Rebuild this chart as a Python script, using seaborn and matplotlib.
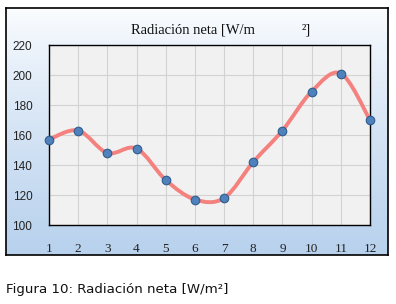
import numpy as np
import seaborn as sns
from matplotlib import pyplot as plt
from matplotlib.path import Path
from matplotlib.patches import PathPatch

# Monthly values
months = [1, 2, 3, 4, 5, 6, 7, 8, 9, 10, 11, 12]
radiation = [157, 163, 148, 151, 130, 117, 118, 142, 163, 189, 201, 170]

sns.set_style("white")
plt.rcParams["font.family"] = ["Liberation Serif", "DejaVu Serif"]

fig = plt.figure(figsize=(3.96, 3.04), dpi=100)

# Outer chart box with a vertical white-to-blue gradient
bg = fig.add_axes([6 / 396, 1 - 255 / 304, 382 / 396, 247 / 304], zorder=0)
grad = np.linspace(0, 1, 256).reshape(-1, 1)
top = np.array([0.99, 0.995, 1.0])
bottom = np.array([0.72, 0.82, 0.93])
img = top + (bottom - top) * grad[:, :, None] ** 0.8
bg.imshow(img, aspect="auto", extent=[0, 1, 0, 1], origin="upper")
bg.set_xticks([])
bg.set_yticks([])
for s in bg.spines.values():
    s.set_color("black")
    s.set_linewidth(1.2)

ax = fig.add_axes([49 / 396, 1 - 225 / 304, 321 / 396, 180 / 304], zorder=1)
ax.set_facecolor("#f1f1f1")

# smoothed line (Bezier segments with Catmull-Rom style control points)
x = np.array(months, dtype=float)
y = np.array(radiation, dtype=float)
verts = [(x[0], y[0])]
codes = [Path.MOVETO]
n = len(x)
for i in range(n - 1):
    p0 = i - 1 if i > 0 else i
    p3 = i + 2 if i + 2 < n else i + 1
    c1 = (x[i] + (x[i + 1] - x[p0]) / 6, y[i] + (y[i + 1] - y[p0]) / 6)
    c2 = (x[i + 1] - (x[p3] - x[i]) / 6, y[i + 1] - (y[p3] - y[i]) / 6)
    verts += [c1, c2, (x[i + 1], y[i + 1])]
    codes += [Path.CURVE4] * 3
ax.add_patch(PathPatch(Path(verts, codes), facecolor="none",
                       edgecolor="#f4817e", linewidth=2.8, zorder=3,
                       clip_on=False))

sns.scatterplot(x=months, y=radiation, ax=ax, s=38, color="#4f81bd",
                edgecolor="#2f5d8c", linewidth=0.8, zorder=4, clip_on=False)

ax.set_xlim(1, 12)
ax.set_ylim(100, 220)
ax.set_xticks(months)
ax.set_yticks(range(100, 221, 20))
ax.grid(True, color="#d2d2d2", linewidth=0.8)
ax.set_axisbelow(True)
for s in ax.spines.values():
    s.set_visible(True)
    s.set_color("black")
    s.set_linewidth(1.0)
ax.tick_params(axis="both", length=0)
ax.tick_params(axis="x", pad=13, labelsize=9.5, labelcolor="#222222")
ax.tick_params(axis="y", pad=12, labelsize=8.5, labelcolor="#222222")
for lab in ax.get_yticklabels():
    lab.set_fontfamily(["Liberation Sans", "DejaVu Sans"])

fig.text(131 / 396, 1 - 34 / 304, "Radiación neta [W/m", fontsize=10.5,
         va="baseline", ha="left", color="#111111")
fig.text(302 / 396, 1 - 34 / 304, "²]", fontsize=10.5,
         va="baseline", ha="left", color="#111111")

fig.text(6 / 396, 1 - 293 / 304, "Figura 10: Radiación neta [W/m²]",
         fontsize=9.6, va="baseline", ha="left", color="#111111",
         family=["DejaVu Sans"])

fig.savefig("out.png", dpi=100)
